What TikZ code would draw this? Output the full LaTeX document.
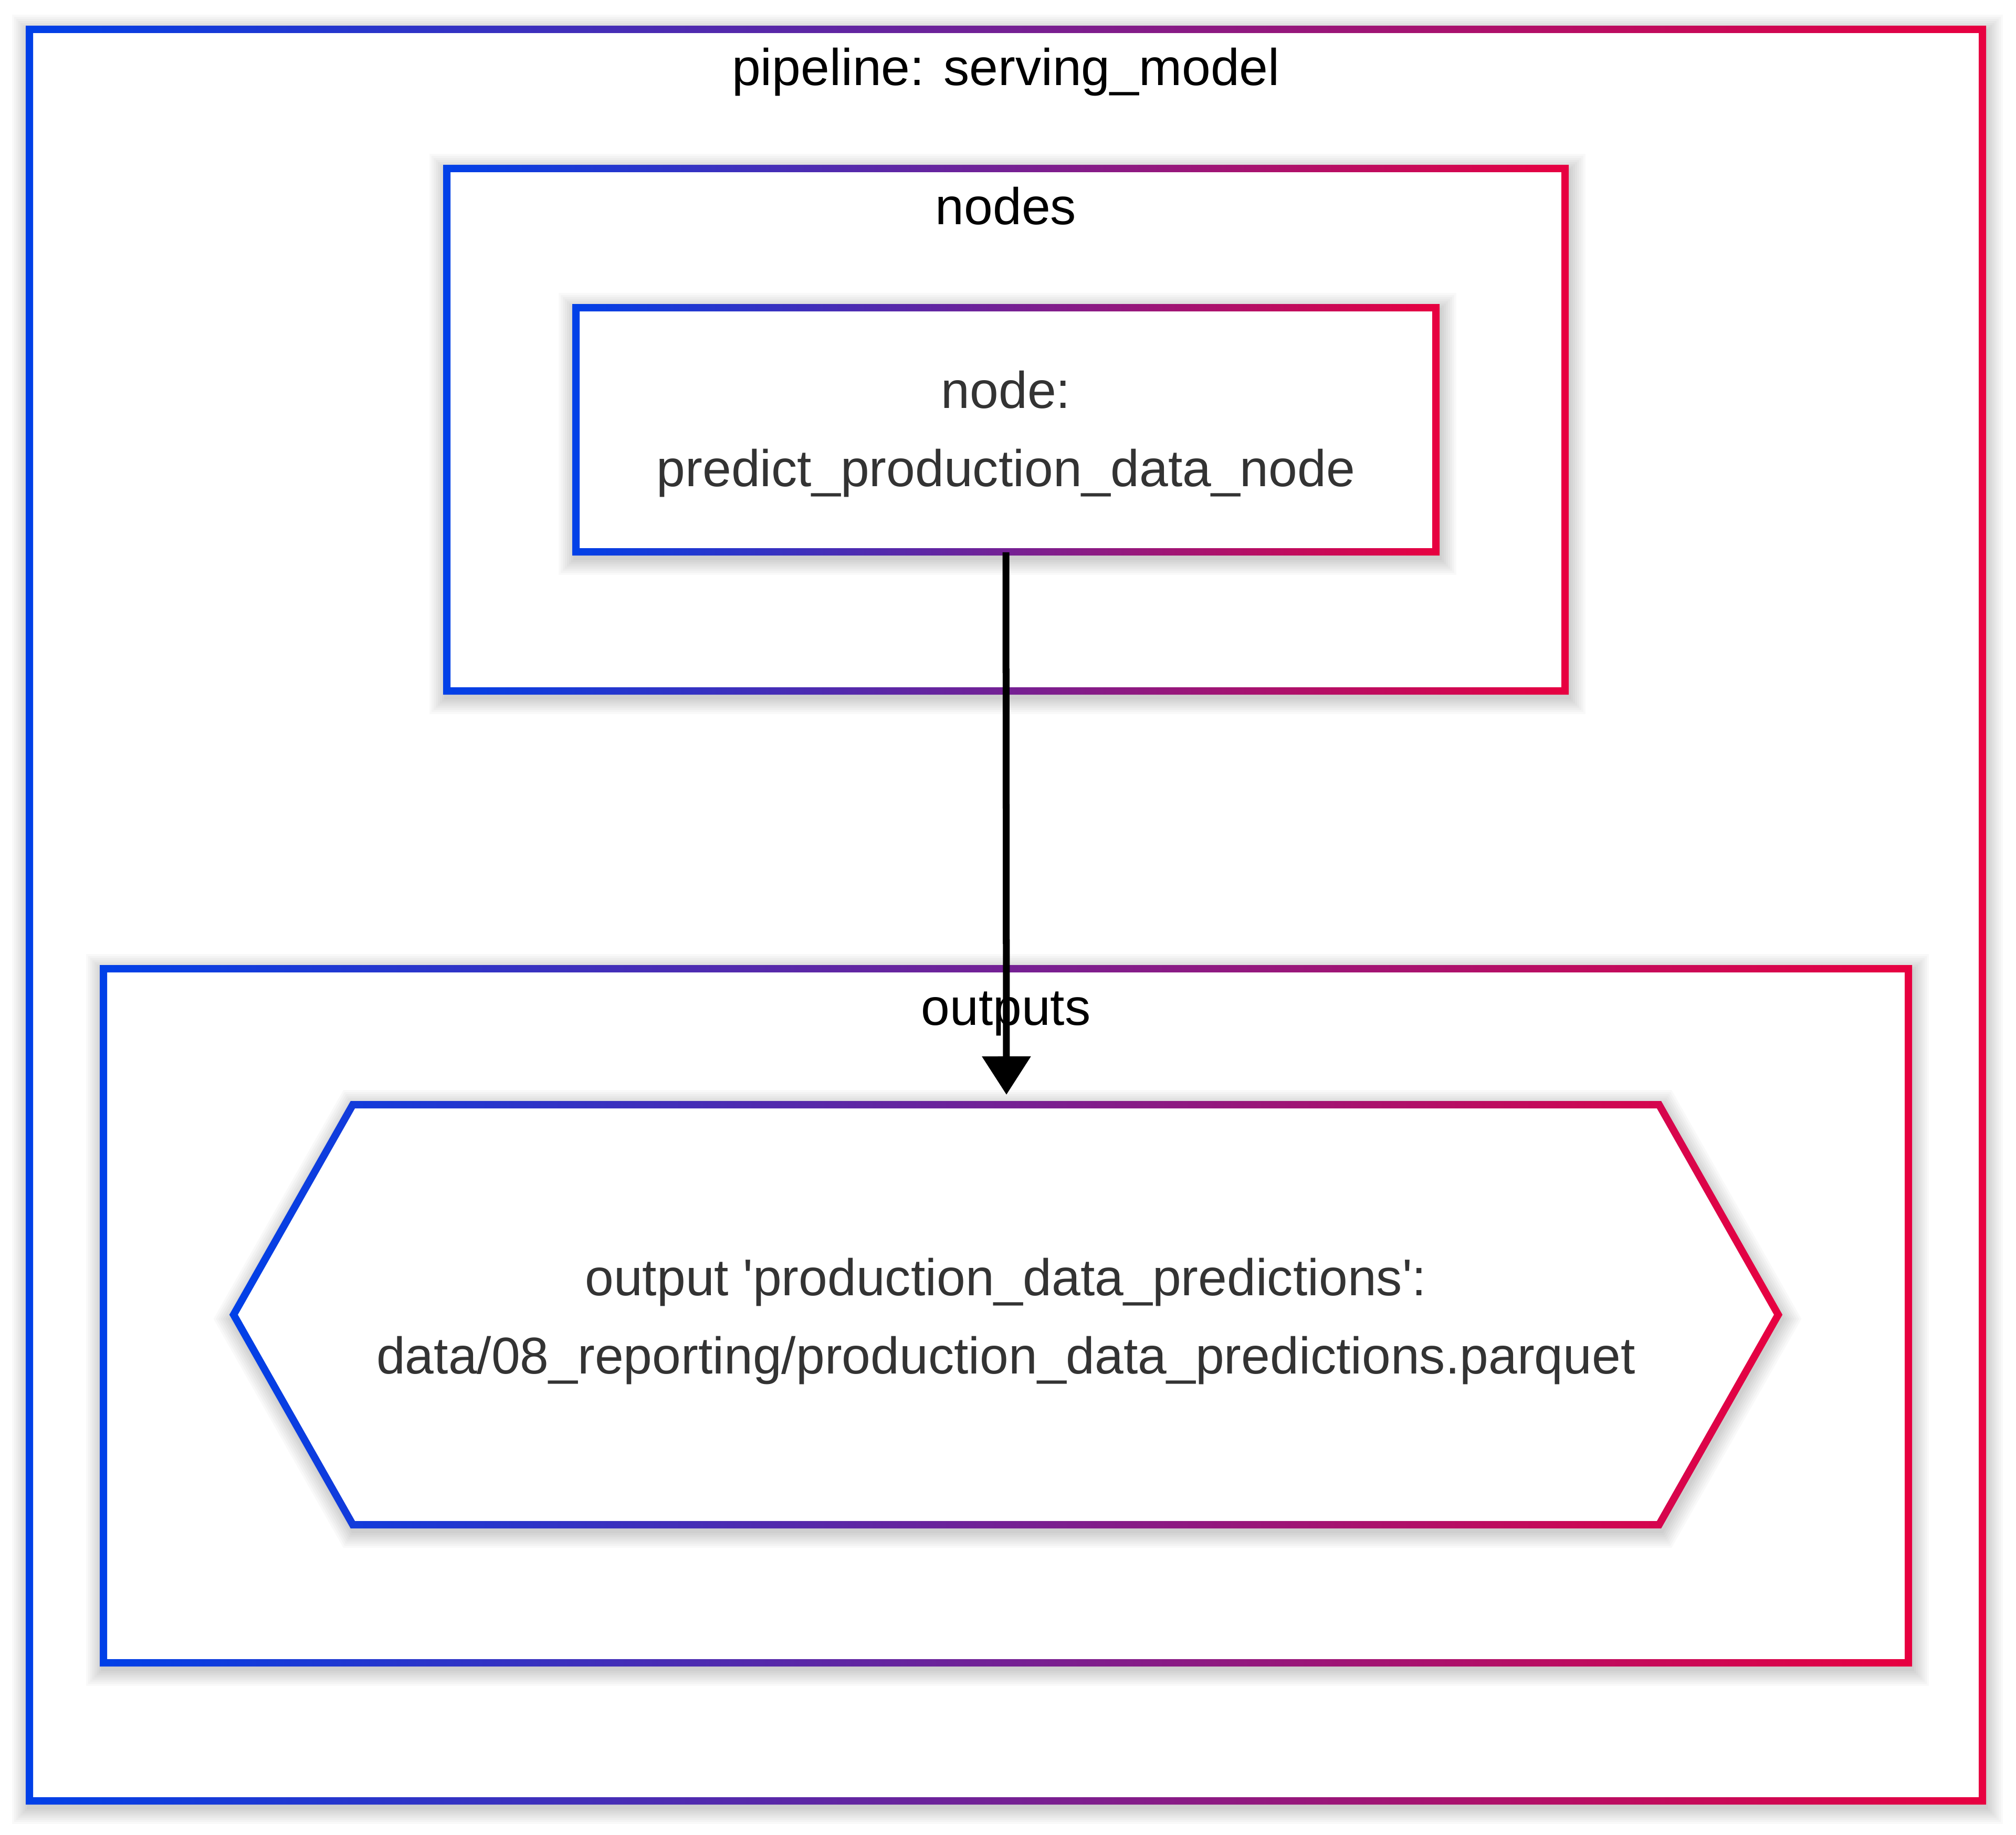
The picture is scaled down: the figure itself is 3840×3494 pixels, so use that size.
\documentclass[tikz,border=0pt]{standalone}
\usepackage{fontspec}
\setmainfont{Liberation Sans}
\usetikzlibrary{arrows.meta}
\definecolor{gblue}{RGB}{0,64,232}
\definecolor{gred}{RGB}{232,0,64}
\definecolor{lblc}{HTML}{333333}
\tikzset{
  lbltext/.style={font=\fontsize{28}{34}\selectfont, text=lblc, inner sep=0pt, anchor=base},
  cltext/.style={font=\fontsize{28}{34}\selectfont, text=black, inner sep=0pt, anchor=base},
  halo/.style={draw=black, draw opacity=0.025, line join=miter},
  gborder/.style={left color=gblue, right color=gred, even odd rule},
  arrowline/.style={draw=black, line width=0.13cm, -{Triangle[length=0.73cm, width=0.9cm]}},
}
\newcommand\shadowpath[1]{%
  \foreach \w in {16,24,32,40,48,56,64,72} {\draw[shift={(3,8)}, halo, line width=\w*0.01cm] #1;}}
\newcommand\gradrect[4]{%
  \shadowpath{(#1,#2) rectangle (#3,#4)}
  \fill[white] (#1,#2) rectangle (#3,#4);
  \shade[gborder] ({#1-7},{#2-7}) rectangle ({#3+7},{#4+7}) ({#1+7},{#2+7}) rectangle ({#3-7},{#4-7});
}
\begin{document}
\begin{tikzpicture}[x=0.01cm, y=-0.01cm]
\useasboundingbox (0,0) rectangle (3840,3494);
\fill[white] (0,0) rectangle (3840,3494);

% pipeline cluster
\gradrect{56}{56}{3776}{3430}
\node[inner sep=0pt, minimum width=37.2cm, minimum height=33.74cm] (pipeline) at (1916,1743) {};
\node[cltext] (pipelinelbl) at (1916,163) {pipeline: serving\_model};

% nodes cluster
\gradrect{851}{321}{2981}{1316}
\node[inner sep=0pt, minimum width=21.3cm, minimum height=9.95cm] (nodescl) at (1916,818.5) {};
\node[cltext] (nodeslbl) at (1916,427) {nodes};

% node box
\gradrect{1097}{586}{2735}{1051}
\node[inner sep=0pt, minimum width=16.38cm, minimum height=4.65cm] (pnode) at (1916,818.5) {};
\node[lbltext] (pnode1) at (1916,777) {node:};
\node[lbltext] (pnode2) at (1916,926) {predict\_production\_data\_node};

% outputs cluster
\gradrect{197}{1845}{3635}{3167}
\node[inner sep=0pt, minimum width=34.38cm, minimum height=13.22cm] (outputscl) at (1916,2506) {};
\node[cltext] (outputslbl) at (1916,1952) {outputs};

% hexagon output node
\shadowpath{(445,2504) -- (672,2104) -- (3160,2104) -- (3387,2504) -- (3160,2904) -- (672,2904) -- cycle}
\fill[white] (445,2504) -- (672,2104) -- (3160,2104) -- (3387,2504) -- (3160,2904) -- (672,2904) -- cycle;
\shade[gborder] (436.9,2504) -- (667.9,2097) -- (3164.1,2097) -- (3395.1,2504) -- (3164.1,2911) -- (667.9,2911) -- cycle
  (453,2504) -- (676.1,2111) -- (3155.9,2111) -- (3379,2504) -- (3155.9,2897) -- (676.1,2897) -- cycle;
\coordinate (outhex) at (1916,2504);
\coordinate (outtop) at (1917,2085);
\node[lbltext] (outlbl1) at (1916,2467) {output \textquotesingle production\_data\_predictions\textquotesingle:};
\node[lbltext] (outlbl2) at (1916,2616) {data/08\_reporting/production\_data\_predictions.parquet};

% connector
\draw[arrowline] (pnode.south) -- (outtop);
\end{tikzpicture}
\end{document}
